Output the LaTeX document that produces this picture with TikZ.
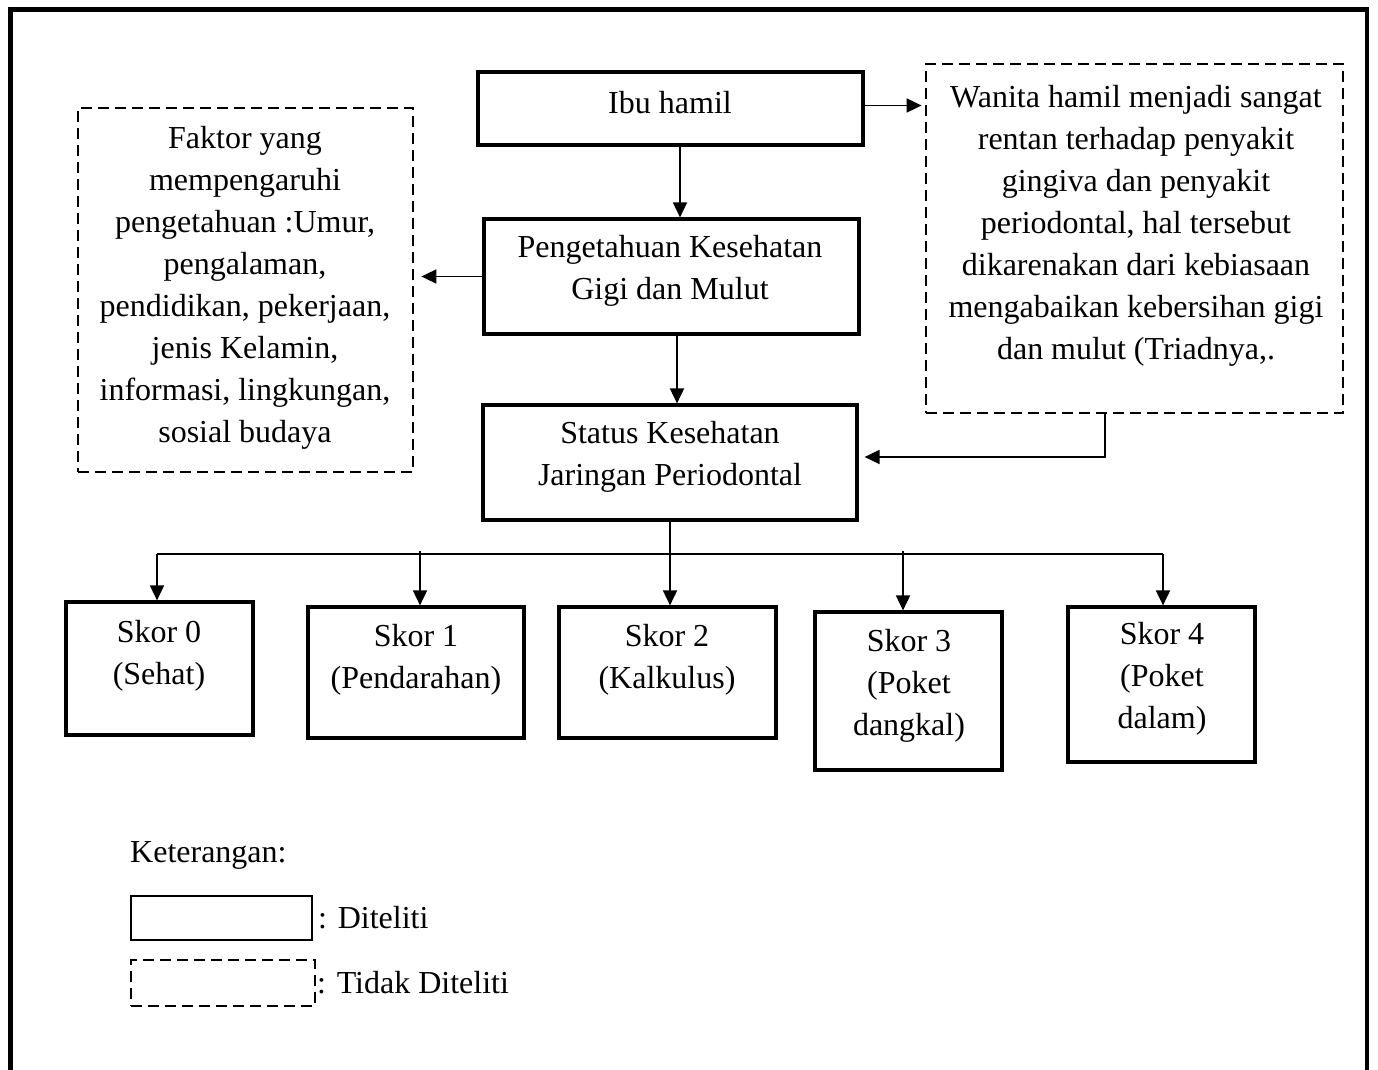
\documentclass[tikz,border=0pt]{standalone}
\usepackage{fontspec}
\setmainfont{Liberation Serif}
\usetikzlibrary{arrows.meta,calc}
\tikzset{
  box/.style={draw, line width=3.2pt, inner sep=0pt},
  dbox/.style={draw, line width=2.8pt, inner sep=0pt, dash pattern=on 11pt off 6pt},
  txt/.style={align=center, inner sep=0pt, font=\fontsize{32}{42}\selectfont},
  ltxt/.style={anchor=west, inner sep=0pt, font=\fontsize{32}{42}\selectfont},
  conn/.style={line width=1.8pt},
  arr/.style={line width=1.8pt, -{Triangle[length=15pt,width=14pt]}},
  frame/.style={line width=4.5pt}
}
\begin{document}
\begin{tikzpicture}[x=1pt,y=-1pt]
\useasboundingbox (0,0) rectangle (1378,1070);
% outer frame (open at bottom)
\coordinate (f1) at (10.5,1075);
\coordinate (f2) at (10.5,9.5);
\coordinate (f3) at (1367,9.5);
\coordinate (f4) at (1367,1075);
\draw[frame] (f1) -- (f2) -- (f3) -- (f4);

% boxes
\node[box, minimum width=385pt, minimum height=73pt] (ibu) at (670.5,108.5) {};
\node[box, minimum width=375pt, minimum height=115pt] (peng) at (671.5,276.5) {};
\node[box, minimum width=374pt, minimum height=115pt] (status) at (670,462.5) {};
\node[dbox, minimum width=335pt, minimum height=364pt] (faktor) at (245.5,290) {};
\node[dbox, minimum width=417pt, minimum height=349pt] (wanita) at (1134.5,238.5) {};
\node[box, minimum width=187pt, minimum height=133pt] (s0) at (159.5,668.5) {};
\node[box, minimum width=216pt, minimum height=131pt] (s1) at (416,672.5) {};
\node[box, minimum width=217pt, minimum height=131pt] (s2) at (667.5,672.5) {};
\node[box, minimum width=187pt, minimum height=158pt] (s3) at (908.5,691) {};
\node[box, minimum width=187pt, minimum height=155pt] (s4) at (1161.5,684.5) {};
\node[box, line width=2.2pt, minimum width=181pt, minimum height=44pt] (lg1) at (221.5,918) {};
\node[dbox, line width=2.2pt, minimum width=184pt, minimum height=46pt] (lg2) at (223,983) {};

% texts
\node[txt] (tibu) at (670,103) {Ibu hamil};
\node[txt] (tpeng) at (670,271) {Pengetahuan Kesehatan\\Gigi dan Mulut};
\node[txt] (tstatus) at (670,457) {Status Kesehatan\\Jaringan Periodontal};
\node[txt] (tfaktor) at (245,288) {Faktor yang\\mempengaruhi\\pengetahuan :Umur,\\pengalaman,\\pendidikan, pekerjaan,\\jenis Kelamin,\\informasi, lingkungan,\\sosial budaya};
\node[txt] (twanita) at (1136,226) {Wanita hamil menjadi sangat\\rentan terhadap penyakit\\gingiva dan penyakit\\periodontal, hal tersebut\\dikarenakan dari kebiasaan\\mengabaikan kebersihan gigi\\dan mulut (Triadnya,.};
\node[txt] (ts0) at (159,656) {Skor 0\\(Sehat)};
\node[txt] (ts1) at (416,660) {Skor 1\\(Pendarahan)};
\node[txt] (ts2) at (667,660) {Skor 2\\(Kalkulus)};
\node[txt] (ts3) at (909,686) {Skor 3\\(Poket\\dangkal)};
\node[txt] (ts4) at (1162,679) {Skor 4\\(Poket\\dalam)};
\node[ltxt] (tket) at (130,855) {Keterangan:};
\node[ltxt] (tl1) at (318,918) {: Diteliti};
\node[ltxt] (tl2) at (317,983) {: Tidak Diteliti};

% connectors
\coordinate (c1) at (680,0);
\coordinate (c2) at (677,0);
\coordinate (c3) at (1105,457);
\coordinate (cb) at (670,0);
\draw[arr] (ibu.south -| c1) -- (peng.north -| c1);
\draw[arr] (peng.south -| c2) -- (status.north -| c2);
\draw[arr, shorten >=7pt] (peng.west) -- (peng.west -| faktor.east);
\draw[arr, shorten >=3pt] ($(ibu.east)+(0,-3)$) -- ($(ibu.east -| wanita.west)+(0,-3)$);
\draw[arr, shorten >=6pt] (wanita.south -| c3) -- (c3) -- (c3 -| status.east);

% bus
\coordinate (bl) at (157,554);
\coordinate (br) at (1163,554);
\coordinate (t1) at (420,551);
\coordinate (t3) at (903,551);
\draw[conn] (bl) -- (br);
\draw[arr] (bl) -- (bl |- s0.north);
\draw[arr] (t1) -- (t1 |- s1.north);
\draw[arr] (status.south -| cb) -- (cb |- s2.north);
\draw[arr] (t3) -- (t3 |- s3.north);
\draw[arr] (br) -- (br |- s4.north);
\end{tikzpicture}
\end{document}
